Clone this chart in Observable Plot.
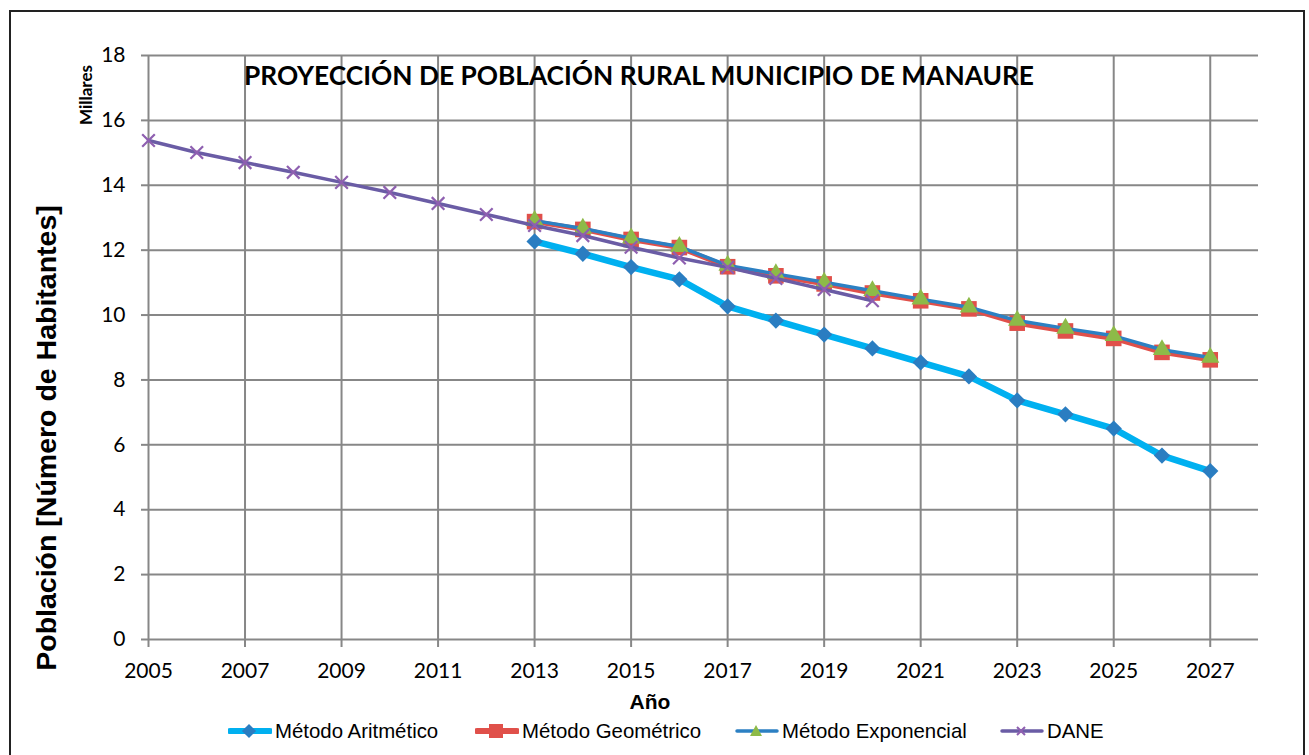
<!DOCTYPE html>
<html><head><meta charset="utf-8">
<script src="https://cdn.jsdelivr.net/npm/d3@7"></script>
<script src="https://cdn.jsdelivr.net/npm/@observablehq/plot@0.6"></script>
<style>
body{margin:0;background:#fff;}
#wrap{position:relative;width:1309px;height:755px;overflow:hidden;background:#fff;}
#frame{position:absolute;left:9px;top:10px;width:1296px;height:780px;border:2px solid #222;box-sizing:border-box;pointer-events:none;}
#chart{position:absolute;left:0;top:0;}
#chart svg text{font-family:Lato, sans-serif;}
.abs{position:absolute;white-space:nowrap;color:#000;}
#title{left:639px;top:75px;transform:translate(-50%,-50%);font:bold 26.3px Lato, sans-serif;}
#millares{left:85px;top:95px;transform:translate(-50%,-50%) rotate(-90deg);font:bold 17px Lato, sans-serif;}
#ytitle{left:46px;top:438px;transform:translate(-50%,-50%) rotate(-90deg);font:bold 28.5px "Liberation Sans", Arial, sans-serif;}
#xtitle{left:650px;top:702px;transform:translate(-50%,-50%);font:bold 21px "Liberation Sans", Arial, sans-serif;}
.leg{position:absolute;top:719px;height:24px;display:flex;align-items:center;font:20.4px "Liberation Sans", Arial, sans-serif;color:#000;white-space:nowrap;}
.leg svg{margin-right:3px;}
</style></head>
<body>
<div id="wrap">
  <div id="chart"></div>
  <div class="abs" id="title">PROYECCIÓN DE POBLACIÓN RURAL MUNICIPIO DE MANAURE</div>
  <div class="abs" id="millares">Millares</div>
  <div class="abs" id="ytitle">Población [Número de Habitantes]</div>
  <div class="abs" id="xtitle">Año</div>
  <div id="legend"></div>
  <div id="frame"></div>
</div>
<script>
// ---- data (thousands of inhabitants) ----
const yearsDANE = [2005,2006,2007,2008,2009,2010,2011,2012,2013,2014,2015,2016,2017,2018,2019,2020];
const dane = [15.38,15.01,14.70,14.40,14.09,13.78,13.44,13.10,12.76,12.45,12.09,11.76,11.47,11.13,10.79,10.44];
const yearsProj = [2013,2014,2015,2016,2017,2018,2019,2020,2021,2022,2023,2024,2025,2026,2027];
const aritmetico = [12.27,11.89,11.48,11.10,10.27,9.83,9.40,8.97,8.54,8.11,7.37,6.94,6.50,5.67,5.19];
const geometrico = [12.88,12.64,12.33,12.08,11.49,11.21,10.96,10.68,10.44,10.19,9.75,9.51,9.28,8.85,8.62];
const exponencial = [12.91,12.67,12.37,12.11,11.53,11.27,11.01,10.75,10.49,10.24,9.83,9.59,9.36,8.93,8.69];
const seriesNames = ["Método Aritmético","Método Geométrico","Método Exponencial","DANE"];
const xTicks = [2005,2007,2009,2011,2013,2015,2017,2019,2021,2023,2025,2027];
const yTicks = [0,2,4,6,8,10,12,14,16,18];

const toRows = (xs, ys) => xs.map((x, i) => ({x, y: ys[i]}));
const rA = toRows(yearsProj, aritmetico);
const rG = toRows(yearsProj, geometrico);
const rE = toRows(yearsProj, exponencial);
const rD = toRows(yearsDANE, dane);

const grid = "#878787";
const chart = Plot.plot({
  width: 1309, height: 755,
  marginLeft: 148, marginRight: 51, marginTop: 55, marginBottom: 116,
  style: {background: "transparent", color: "#000", fontSize: "21px", fontFamily: "Lato, sans-serif"},
  x: {domain: [2005, 2028]},
  y: {domain: [0, 18]},
  marks: [
    Plot.gridY(yTicks, {stroke: grid, strokeOpacity: 1, strokeWidth: 2}),
    Plot.gridX(xTicks, {stroke: grid, strokeOpacity: 1, strokeWidth: 2}),
    Plot.axisY(yTicks, {tickSize: 7, tickPadding: 16, stroke: grid, strokeWidth: 2, fontSize: 21, label: null, tickFormat: d => String(d)}),
    Plot.axisX(xTicks, {tickSize: 8, tickPadding: 16, stroke: grid, strokeWidth: 2, fontSize: 21, label: null, tickFormat: d => String(d)}),
    // Aritmético
    Plot.line(rA, {x: "x", y: "y", stroke: "#00B0F0", strokeWidth: 6.5}),
    Plot.dot(rA, {x: "x", y: "y", symbol: "square", r: 6.5, rotate: 45, fill: "#2A7DC1", stroke: null}),
    // Geométrico
    Plot.line(rG, {x: "x", y: "y", stroke: "#E0504A", strokeWidth: 5}),
    Plot.dot(rG, {x: "x", y: "y", symbol: "square", r: 8.8, fill: "#E0504A", stroke: null}),
    // Exponencial
    Plot.line(rE, {x: "x", y: "y", stroke: "#2C80C3", strokeWidth: 3.5}),
    Plot.dot(rE, {x: "x", y: "y", symbol: "triangle", r: 6.8, fill: "#8DBA48", stroke: null}),
    // DANE
    Plot.line(rD, {x: "x", y: "y", stroke: "#6A5CA5", strokeWidth: 3.5}),
    Plot.dot(rD, {x: "x", y: "y", symbol: "times", r: 5.8, stroke: "#8E5FB0", strokeWidth: 2.2, fill: "none"})
  ]
});
// make sure tick labels use the intended size
d3.select(chart).selectAll('g[aria-label="x-axis tick label"], g[aria-label="y-axis tick label"]')
  .attr("font-size", 21).style("font-size", "21px");
document.getElementById("chart").appendChild(chart);

// ---- legend ----
const legendSpec = [
  {name: seriesNames[0], left: 228, line: "#00B0F0", lw: 6, mk: "diamond", mc: "#2A7DC1"},
  {name: seriesNames[1], left: 475, line: "#E0504A", lw: 6, mk: "square", mc: "#E0504A"},
  {name: seriesNames[2], left: 735, line: "#2C80C3", lw: 3.5, mk: "triangle", mc: "#8DBA48"},
  {name: seriesNames[3], left: 1000, line: "#6A5CA5", lw: 3.5, mk: "times", mc: "#8E5FB0"}
];
const leg = document.getElementById("legend");
for (const s of legendSpec) {
  const div = document.createElement("div");
  div.className = "leg";
  div.style.left = s.left + "px";
  let m = "";
  if (s.mk === "diamond") m = `<rect x="16" y="7" width="10" height="10" fill="${s.mc}" transform="rotate(45 21 12)"/>`;
  if (s.mk === "square") m = `<rect x="14" y="5" width="14" height="14" fill="${s.mc}"/>`;
  if (s.mk === "triangle") m = `<path d="M21 6 L27 17 L15 17 Z" fill="${s.mc}"/>`;
  if (s.mk === "times") m = `<path d="M17 8 L25 16 M25 8 L17 16" stroke="${s.mc}" stroke-width="2"/>`;
  div.innerHTML = `<svg width="44" height="24"><line x1="2" x2="42" y1="12" y2="12" stroke="${s.line}" stroke-width="${s.lw}" stroke-linecap="round"/>${m}</svg><span>${s.name}</span>`;
  leg.appendChild(div);
}
</script>
</body></html>
